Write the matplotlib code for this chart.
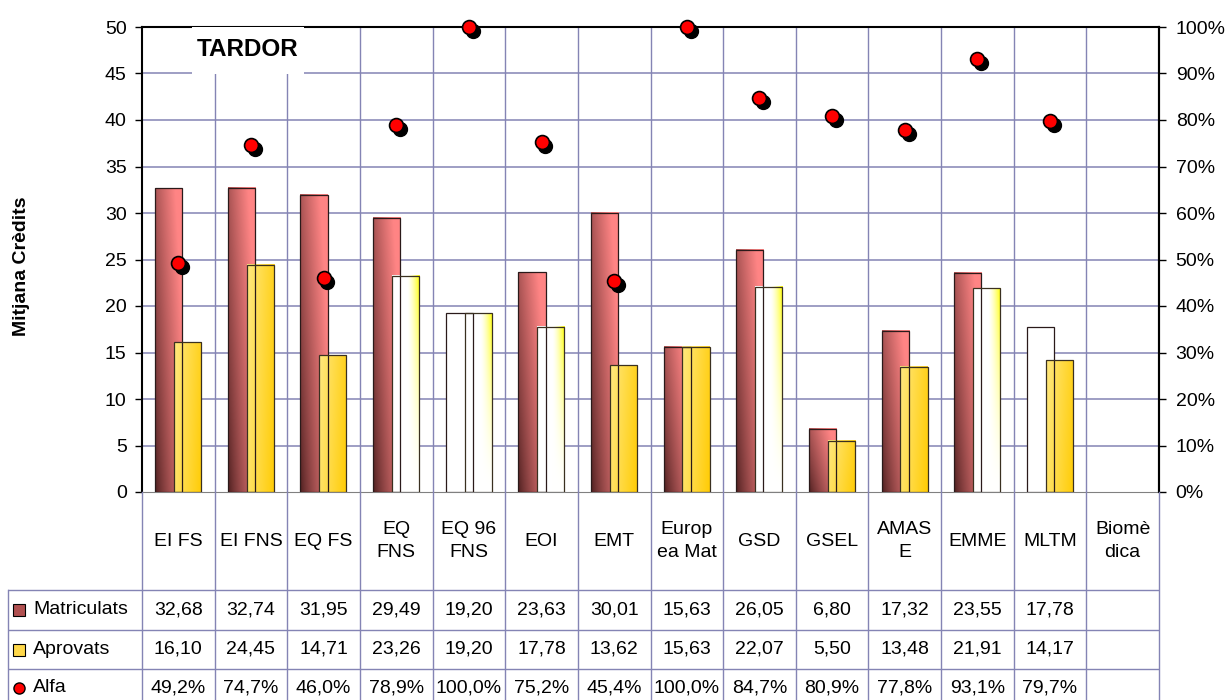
import matplotlib
matplotlib.use("Agg")
import matplotlib.pyplot as plt
import numpy as np
from matplotlib.patches import Rectangle
from matplotlib.transforms import ScaledTranslation

plt.rcParams['font.family'] = ['Liberation Sans', 'DejaVu Sans']

# data
categories = ["EI FS", "EI FNS", "EQ FS", "EQ\nFNS", "EQ 96\nFNS", "EOI", "EMT",
              "Europ\nea Mat", "GSD", "GSEL", "AMAS\nE", "EMME", "MLTM", "Biomè\ndica"]
matriculats = [32.68, 32.74, 31.95, 29.49, 19.20, 23.63, 30.01, 15.63, 26.05, 6.80, 17.32, 23.55, 17.78, None]
aprovats = [16.10, 24.45, 14.71, 23.26, 19.20, 17.78, 13.62, 15.63, 22.07, 5.50, 13.48, 21.91, 14.17, None]
alfa = [49.2, 74.7, 46.0, 78.9, 100.0, 75.2, 45.4, 100.0, 84.7, 80.9, 77.8, 93.1, 79.7, None]

# bars that Excel rendered with a washed-out fill
white_matr = {4, 12}
white_aprov = {3, 4, 5, 8, 11}

W, H = 1229, 700
fig = plt.figure(figsize=(W / 100, H / 100), dpi=100)
fig.patch.set_facecolor('white')

L, R, T, B = 142, 1159, 27, 492
ax = fig.add_axes([L / W, 1 - B / H, (R - L) / W, (B - T) / H])
ax2 = ax.twinx()
n = len(categories)
grid_c = '#8484b4'
fs = 14


def grad_img(kind):
    u = np.linspace(0, 1, 40)[None, :]
    v = np.linspace(0, 1, 80)[:, None]
    if kind == 'red':
        t = np.clip(0.75 * u + 0.45 * v, 0, 1) ** 0.8
        dark = np.array([0.30, 0.12, 0.12])
        light = np.array([1.0, 0.52, 0.52])
        return dark + (light - dark) * t[..., None]
    if kind == 'yellow':
        t = np.clip(0.8 * u + 0.2 * (1 - v), 0, 1)
        pale = np.array([1.0, 0.91, 0.50])
        deep = np.array([1.0, 0.80, 0.02])
        return pale + (deep - pale) * t[..., None]
    if kind == 'whiteyellow':
        a = np.clip((u - 0.55) / 0.45, 0, 1) ** 1.5 * v ** 1.5
        return np.ones(3) * (1 - a[..., None]) + np.array([1.0, 1.0, 0.0]) * a[..., None]
    return np.ones((80, 40, 3))


def draw_bar(x0, w, h, kind, edge):
    ax.imshow(grad_img(kind), origin='lower', extent=(x0, x0 + w, 0, h),
              aspect='auto', interpolation='bilinear', zorder=3)
    ax.add_patch(Rectangle((x0, 0), w, h, fill=False, edgecolor=edge, lw=0.9, zorder=4))


bw = 0.375
for i in range(n):
    if matriculats[i] is not None:
        kind = 'white' if i in white_matr else 'red'
        draw_bar(i + 0.18, bw, matriculats[i], kind, '#2a1a1a')
    if aprovats[i] is not None:
        if i in white_aprov:
            kind = 'whiteyellow'
        else:
            kind = 'yellow'
        draw_bar(i + 0.44, bw, aprovats[i], kind, '#3a3020')

# grid
for yv in range(5, 50, 5):
    ax.axhline(yv, color=grid_c, lw=1.1, zorder=1)
for k in range(1, n):
    ax.axvline(k, color=grid_c, lw=1.0, zorder=1)

ax.set_xlim(0, n)
ax.set_ylim(0, 50)
ax.set_xticks([])
ax.set_yticks(range(0, 51, 5))
ax.tick_params(axis='y', labelsize=fs, length=5, width=1, pad=6, direction='out')
for s in ['left', 'right', 'top']:
    ax.spines[s].set_color('black')
    ax.spines[s].set_linewidth(1.5)
ax.spines['bottom'].set_color('#808080')

# Alfa markers on the secondary axis
ax2.set_ylim(0, 100)
ax2.set_yticks(range(0, 101, 10))
ax2.set_yticklabels([f"{v}%" for v in range(0, 101, 10)])
ax2.tick_params(axis='y', labelsize=fs, length=5, width=1, pad=7, direction='out')
for s in ['left', 'right', 'top', 'bottom']:
    ax2.spines[s].set_visible(False)
ax2.spines['right'].set_visible(True)
ax2.spines['right'].set_linewidth(1.5)
xa = [i + 0.5 for i in range(n) if alfa[i] is not None]
ya = [a for a in alfa if a is not None]
shadow = ax2.transData + ScaledTranslation(2.8 / 72, -2.8 / 72, fig.dpi_scale_trans)
ax2.plot(xa, ya, 'o', color='black', ms=10, transform=shadow, clip_on=False, zorder=5)
ax2.plot(xa, ya, 'o', color='red', mec='black', mew=1.2, ms=10, clip_on=False, zorder=6)

fig.text(22 / W, 1 - 266 / H, "Mitjana Crèdits", rotation=90, ha='center', va='center',
         fontsize=14, fontweight='bold')

# title box
fig.patches.append(Rectangle((192 / W, 1 - 74 / H), 112 / W, 47 / H, transform=fig.transFigure,
                             facecolor='white', edgecolor='none', zorder=5))
fig.text(248 / W, 1 - 50 / H, "TARDOR", ha='center', va='center', fontsize=17.5,
         fontweight='bold', zorder=6)

# data table
tbl = fig.add_axes([8 / W, 0, (R - 8) / W, (H - B) / H])
cw = (R - L) / n
xl = -(L - 8) / cw
tbl.set_xlim(xl, n)
tbl.set_ylim(H - B, 0)
tbl.axis('off')
rows_y = [98, 138, 177]
for k in range(n + 1):
    tbl.plot([k, k], [0, H - B], color=grid_c, lw=1.0, clip_on=False)
tbl.plot([xl, xl], [98, H - B], color=grid_c, lw=1.0, clip_on=False)
for ry in rows_y:
    tbl.plot([xl, n], [ry, ry], color=grid_c, lw=1.0)

for i, c in enumerate(categories):
    tbl.text(i + 0.5, 49, c, ha='center', va='center', fontsize=fs, linespacing=1.45)
    if matriculats[i] is not None:
        tbl.text(i + 0.5, 118, f"{matriculats[i]:.2f}".replace('.', ','),
                 ha='center', va='center', fontsize=fs)
        tbl.text(i + 0.5, 157.5, f"{aprovats[i]:.2f}".replace('.', ','),
                 ha='center', va='center', fontsize=fs)
        tbl.text(i + 0.5, 196, f"{alfa[i]:.1f}%".replace('.', ','),
                 ha='center', va='center', fontsize=fs)

kx0 = (13 - L) / cw
kw = 12 / cw
tbl.add_patch(Rectangle((kx0, 112), kw, 12, facecolor='#b05050', edgecolor='black', lw=0.8))
tbl.add_patch(Rectangle((kx0, 151.5), kw, 12, facecolor='#ffd84a', edgecolor='black', lw=0.8))
tbl.plot([kx0 + kw / 2], [196], 'o', color='red', mec='black', ms=8, clip_on=False)
tx = (33 - L) / cw
for yy, lab in zip([118, 157.5, 196], ["Matriculats", "Aprovats", "Alfa"]):
    tbl.text(tx, yy, lab, ha='left', va='center', fontsize=fs)

fig.savefig("out.png", dpi=100)
